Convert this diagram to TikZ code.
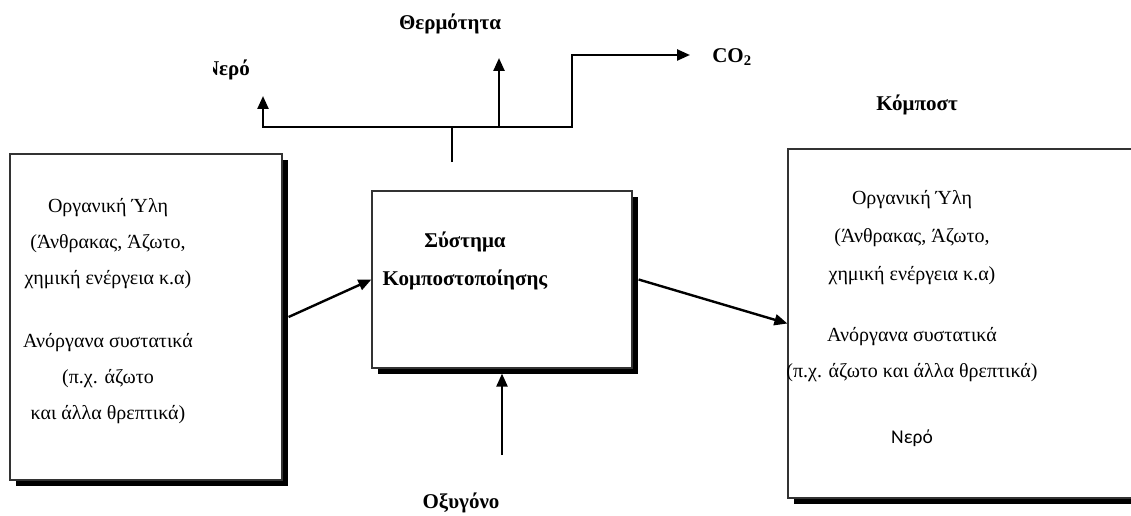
\documentclass[tikz,border=0pt]{standalone}
\usepackage{fontspec}
\setmainfont{Liberation Serif}
\newfontfamily\carlito{Carlito}
\usetikzlibrary{arrows.meta,shadows}

\tikzset{
  shadowbox/.style={draw=black!80, line width=1.2pt, fill=white,
    drop shadow={shadow xshift=6pt, shadow yshift=-6pt, fill=black, opacity=1}},
  flow/.style={line width=2.4pt, -{Triangle[length=13pt,width=11pt]}},
  pipe/.style={line width=2.4pt},
  boxtext/.style={align=center, font=\fontsize{20}{36}\selectfont},
  tag/.style={font=\bfseries\fontsize{21}{24}\selectfont}
}

\begin{document}
\begin{tikzpicture}[x=1pt,y=-1pt]
  % Page frame
  \clip (0,0) rectangle (1131,516);

  % Boxes with shadow
  \node[shadowbox, minimum width=272pt, minimum height=326pt] (organic) at (146,317) {};
  \node[shadowbox, minimum width=260pt, minimum height=177pt] (system) at (502,279.5) {};
  \node[shadowbox, minimum width=380pt, minimum height=349pt] (compost) at (978,323.5) {};

  % Text inside the boxes
  \node[boxtext] (orgtext) at (108,244) {Οργανική Ύλη\\(Άνθρακας, Άζωτο,\\χημική ενέργεια κ.α)};
  \node[boxtext] (inorgtext) at (108,379) {Ανόργανα συστατικά\\(π.χ. άζωτο\\και άλλα θρεπτικά)};
  \node[boxtext, font=\bfseries\fontsize{21}{38}\selectfont] (systext) at (465,261) {Σύστημα\\Κομποστοποίησης};
  \node[boxtext, font=\fontsize{20}{38}\selectfont] (corgtext) at (912,238) {Οργανική Ύλη\\(Άνθρακας, Άζωτο,\\χημική ενέργεια κ.α)};
  \node[boxtext] (cinorgtext) at (912,355) {Ανόργανα συστατικά\\(π.χ. άζωτο και άλλα θρεπτικά)};
  \node[font=\carlito\fontsize{19.5}{22}\selectfont] (cwater) at (912,438) {Νερό};

  % Labels outside
  \node[tag] (heat) at (450,24) {Θερμότητα};
  \node[tag] (co2) at (732,57) {CO\textsubscript{2}};
  \node[tag] (compostlbl) at (917,105) {Κόμποστ};
  \node[tag] (oxygen) at (461,503) {Οξυγόνο};
  \begin{scope}
    \clip (213,40) rectangle (300,100);
    \node[tag] (water) at (227,70) {Νερό};
  \end{scope}

  % Flows in and out of the system
  \draw[flow] ([xshift=6pt]organic.east) -- (system.west);
  \draw[flow] ([xshift=6pt]system.east) -- (compost.west);
  \coordinate (oxyin) at (502,455);
  \draw[flow] (oxyin) -- ([yshift=-5pt]system.south);

  % Gases leaving the system
  \coordinate (gasout) at (452,162);
  \coordinate (gasmid) at (452,127);
  \coordinate (wtip) at (263,96);
  \coordinate (htip) at (499,58);
  \coordinate (cbend) at (572,55);
  \coordinate (ctip) at (690,55);
  \draw[pipe] (gasout) -- (gasmid);
  \draw[flow] (gasmid) -| (wtip);
  \draw[flow] (htip |- gasmid) -- (htip);
  \draw[flow] (gasmid) -| (cbend) -- (ctip);

\end{tikzpicture}
\end{document}
